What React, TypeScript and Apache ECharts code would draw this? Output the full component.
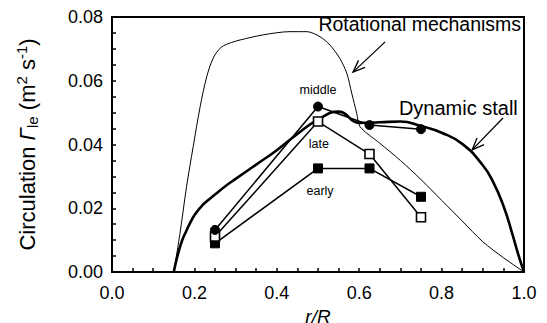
import React, { useEffect, useRef } from "react";
import * as echarts from "echarts";

const rotational: [number, number][] = [
  [0.15, 0], [0.165, 0.0121], [0.181, 0.0268], [0.197, 0.0393], [0.214, 0.0519],
  [0.23, 0.0613], [0.246, 0.0672], [0.265, 0.0705], [0.29, 0.072], [0.311, 0.0728],
  [0.367, 0.0744], [0.432, 0.0754], [0.473, 0.0754], [0.505, 0.0738], [0.529, 0.0712],
  [0.553, 0.067], [0.57, 0.0623], [0.582, 0.056], [0.594, 0.0498], [0.602, 0.0456],
  [0.65, 0.0404], [0.7, 0.035], [0.75, 0.029], [0.8, 0.0225], [0.85, 0.016],
  [0.9, 0.0095], [0.95, 0.0045], [1.0, 0],
];

const dynamicStall: [number, number][] = [
  [0.15, 0], [0.155, 0.003], [0.162, 0.0065], [0.17, 0.0098], [0.18, 0.0128],
  [0.19, 0.0155], [0.2, 0.0178], [0.215, 0.0203], [0.23, 0.0222], [0.25, 0.0243],
  [0.275, 0.0269], [0.3, 0.0292], [0.35, 0.0337], [0.4, 0.0382], [0.45, 0.0433],
  [0.5, 0.0478], [0.55, 0.0503], [0.6, 0.0468], [0.65, 0.047], [0.7, 0.0472],
  [0.75, 0.0458], [0.8, 0.0437], [0.85, 0.0402], [0.9, 0.0335], [0.925, 0.0283],
  [0.95, 0.0208], [0.97, 0.0127], [0.986, 0.0055], [1.0, 0],
];

const positions = [0.25, 0.5, 0.625, 0.75];
const middleValues = [0.0132, 0.0519, 0.0461, 0.0448];
const lateValues = [0.0111, 0.0472, 0.037, 0.0172];
const earlyValues = [0.009, 0.0325, 0.0325, 0.0236];

const xTicks = [0, 0.2, 0.4, 0.6, 0.8, 1.0];
const yTicks = [0, 0.02, 0.04, 0.06, 0.08];

const FONT = "'Liberation Sans', Arial, Helvetica, sans-serif";

export default function App() {
  const ref = useRef<HTMLDivElement>(null);
  useEffect(() => {
    if (!ref.current) return;
    document.body.style.margin = "0";
    const chart = echarts.init(ref.current, null, { renderer: "svg" });
    const zip = (vals: number[]) => positions.map((p, i) => [p, vals[i]]);
    const markerLine = { color: "#000", width: 1.5 };
    chart.setOption({
      animation: false,
      backgroundColor: "#fff",
      textStyle: { fontFamily: FONT, color: "#000" },
      grid: {
        left: 112, right: 23, top: 17, bottom: 51,
        containLabel: false,
        outerBoundsMode: "none",
        show: true, borderColor: "#000", borderWidth: 2,
      },
      xAxis: {
        type: "value",
        min: xTicks[0], max: xTicks[xTicks.length - 1], interval: 0.2,
        axisLine: { show: true, lineStyle: { color: "#000", width: 2 } },
        axisTick: { show: true, inside: true, length: 4, lineStyle: { color: "#000", width: 1.5 } },
        minorTick: { show: true, splitNumber: 4, length: 4, lineStyle: { color: "#000", width: 1.5 } },
        splitLine: { show: false },
        axisLabel: {
          fontSize: 18, color: "#000", fontFamily: FONT, margin: 12,
          formatter: (v: number) => v.toFixed(1),
        },
        name: "r/R",
        nameLocation: "middle",
        nameGap: 23,
        nameTextStyle: { fontSize: 19, lineHeight: 20, fontStyle: "italic", color: "#000", fontFamily: FONT },
      },
      yAxis: {
        type: "value",
        min: yTicks[0], max: yTicks[yTicks.length - 1], interval: 0.02,
        axisLine: { show: true, lineStyle: { color: "#000", width: 2 } },
        axisTick: { show: true, inside: true, length: 4, lineStyle: { color: "#000", width: 1.5 } },
        minorTick: { show: true, splitNumber: 4, length: 4, lineStyle: { color: "#000", width: 1.5 } },
        splitLine: { show: false },
        axisLabel: {
          fontSize: 18, color: "#000", fontFamily: FONT, margin: 9,
          formatter: (v: number) => v.toFixed(2),
        },
        name: "{a|Circulation }{g|Γ}{sub|le}{a| (m}{sup|2}{a| s}{sup|-1}{a|)}",
        nameLocation: "middle",
        nameRotate: 90,
        nameGap: 72,
        nameTextStyle: {
          color: "#000",
          fontFamily: FONT,
          rich: {
            a: { fontSize: 22, lineHeight: 26, fontFamily: FONT, color: "#000" },
            g: { fontSize: 22, lineHeight: 26, fontStyle: "italic", fontFamily: FONT, color: "#000" },
            sub: { fontSize: 15, lineHeight: 15, verticalAlign: "bottom", fontFamily: FONT, color: "#000" },
            sup: { fontSize: 15, lineHeight: 15, verticalAlign: "top", fontFamily: FONT, color: "#000" },
          },
        },
      },
      series: [
        {
          name: "Rotational mechanisms", type: "line", data: rotational,
          showSymbol: false, symbol: "none", smooth: 0.3,
          lineStyle: { color: "#000", width: 1 }, z: 2,
        },
        {
          name: "Dynamic stall", type: "line", data: dynamicStall,
          showSymbol: false, symbol: "none", smooth: 0.5,
          lineStyle: { color: "#000", width: 2.6 }, z: 2,
        },
        {
          name: "early", type: "line", data: zip(earlyValues),
          symbol: "rect", symbolSize: 9,
          itemStyle: { color: "#000", borderColor: "#000", borderWidth: 1 },
          lineStyle: markerLine, z: 4,
        },
        {
          name: "late", type: "line", data: zip(lateValues),
          symbol: "rect", symbolSize: 9,
          itemStyle: { color: "#fff", borderColor: "#000", borderWidth: 1.6 },
          lineStyle: markerLine, z: 5,
        },
        {
          name: "middle", type: "line", data: zip(middleValues),
          symbol: "circle", symbolSize: 9,
          itemStyle: { color: "#000", borderColor: "#000", borderWidth: 1 },
          lineStyle: markerLine, z: 6,
        },
      ],
    });

    const px = (p: [number, number]) => chart.convertToPixel({ gridIndex: 0 }, p) as number[];
    const arrow = (tail: [number, number], tip: [number, number]) => {
      const a = px(tail);
      const b = px(tip);
      const ang = Math.atan2(a[1] - b[1], a[0] - b[0]);
      const L = 13;
      const s = 0.38;
      const h1 = [b[0] + L * Math.cos(ang + s), b[1] + L * Math.sin(ang + s)];
      const h2 = [b[0] + L * Math.cos(ang - s), b[1] + L * Math.sin(ang - s)];
      return [
        { type: "line", shape: { x1: a[0], y1: a[1], x2: b[0], y2: b[1] }, style: { stroke: "#000", lineWidth: 1.3 } },
        { type: "polyline", shape: { points: [h1, b, h2] }, style: { stroke: "#000", lineWidth: 1.3, fill: null } },
      ];
    };
    const label = (p: [number, number], text: string, size: number, align: string) => {
      const q = px(p);
      return {
        type: "text", x: q[0], y: q[1],
        style: { text, fontSize: size, fontFamily: FONT, fill: "#000", align, verticalAlign: "middle" },
        z: 10,
      };
    };
    chart.setOption({
      graphic: [
        label([0.993, 0.0778], "Rotational mechanisms", 19.5, "right"),
        label([0.985, 0.0514], "Dynamic stall", 20, "right"),
        label([0.5, 0.0571], "middle", 12.5, "center"),
        label([0.502, 0.0403], "late", 12.5, "center"),
        label([0.505, 0.0254], "early", 12.5, "center"),
        ...arrow([0.663, 0.0722], [0.585, 0.0627]),
        ...arrow([0.949, 0.0483], [0.874, 0.0383]),
      ],
    });
    return () => chart.dispose();
  }, []);
  return <div ref={ref} style={{ width: 547, height: 323 }} />;
}
